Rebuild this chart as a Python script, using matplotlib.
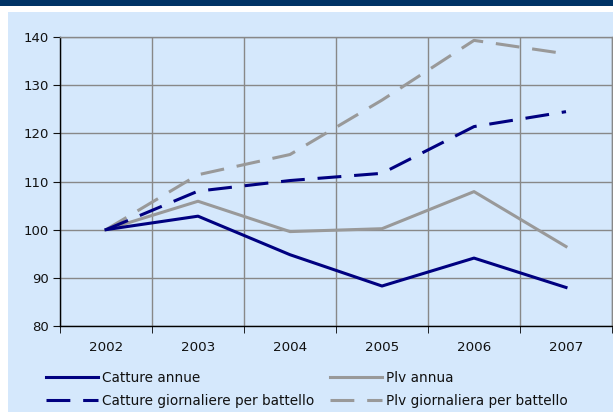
import numpy as np
import matplotlib
matplotlib.use("Agg")
import matplotlib.pyplot as plt
from matplotlib.patches import Rectangle

# data (index, 2002 = 100)
years = ["2002", "2003", "2004", "2005", "2006", "2007"]
catture_annue = [100, 102.8, 94.8, 88.3, 94.1, 88.0]
plv_annua = [100, 105.9, 99.6, 100.2, 107.9, 96.5]
catture_giorn = [100, 108.0, 110.2, 111.7, 121.4, 124.5]
plv_giorn = [100, 111.4, 115.6, 126.9, 139.3, 136.5]
y_ticks = [80, 90, 100, 110, 120, 130, 140]

navy = "#000080"
grey = "#999999"
panel = "#D5E8FC"

plt.rcParams["font.family"] = "DejaVu Sans"

fig = plt.figure(figsize=(6.13, 4.12), dpi=100)
fig.patch.set_facecolor("white")

# header band and light blue panel
fig.add_artist(Rectangle((0, 1 - 6 / 412), 1, 6 / 412, transform=fig.transFigure,
                         facecolor="#003366", edgecolor="none", zorder=0))
fig.add_artist(Rectangle((8 / 613, 0), 1, 1 - 12 / 412, transform=fig.transFigure,
                         facecolor=panel, edgecolor="none", zorder=0))

ax = fig.add_axes([60 / 613, 86 / 412, 552 / 613, 289 / 412])
ax.set_facecolor(panel)

x = np.arange(len(years))
lw = 2.2
dash = (0, (7.8, 4.2))
ax.plot(x, catture_annue, color=navy, lw=lw, label="Catture annue", zorder=5)
ax.plot(x, catture_giorn, color=navy, lw=lw, linestyle=dash,
        label="Catture giornaliere per battello", zorder=5)
ax.plot(x, plv_annua, color=grey, lw=lw, label="Plv annua", zorder=4)
ax.plot(x, plv_giorn, color=grey, lw=lw, linestyle=dash,
        label="Plv giornaliera per battello", zorder=4)

ax.set_xlim(-0.5, len(years) - 0.5)
ax.set_ylim(80, 140)
ax.set_yticks(y_ticks)
ax.set_yticklabels([str(v) for v in y_ticks])
ax.set_xticks(x)
ax.set_xticklabels(years)
ax.set_xticks(np.arange(-0.5, len(years)), minor=True)

ax.grid(True, which="major", axis="y", color="#888888", lw=1)
ax.grid(True, which="minor", axis="x", color="#888888", lw=1)
ax.set_axisbelow(True)

ax.tick_params(axis="x", which="major", length=0, pad=10.5, labelsize=9.7, colors="#111111")
ax.tick_params(axis="x", which="minor", length=5, direction="out", color="black")
ax.tick_params(axis="y", length=5, direction="out", labelsize=9.5, colors="#111111",
               pad=3)

for side in ["left", "bottom"]:
    ax.spines[side].set_color("black")
    ax.spines[side].set_linewidth(1)
for side in ["top", "right"]:
    ax.spines[side].set_color("#888888")
    ax.spines[side].set_linewidth(1)

h, l = ax.get_legend_handles_labels()
leg = fig.legend(h, l, ncol=2, loc="upper left",
                 bbox_to_anchor=(46 / 613, 1 - 371 / 412),
                 frameon=False, fontsize=9.8, handlelength=3.82, handletextpad=0.27,
                 columnspacing=1.2, labelspacing=0.63, borderpad=0,
                 borderaxespad=0)
for t in leg.get_texts():
    t.set_color("#111111")

fig.savefig("out.png", dpi=100, facecolor=fig.get_facecolor())
